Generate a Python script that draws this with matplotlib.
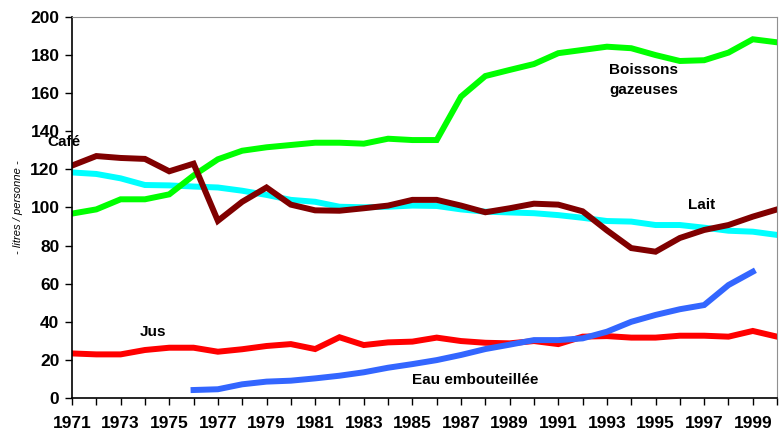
import matplotlib.pyplot as plt
import numpy as np

plt.rcParams['font.family'] = ['Liberation Sans', 'DejaVu Sans']

years = list(range(1971, 2001))

cafe = [122, 127, 126, 125.5, 119, 123, 93, 103, 110.5, 101.5, 98.5, 98.3, 99.6, 101,
        104, 104, 101, 97.5, 99.6, 102, 101.5, 98, 88, 78.7, 76.8, 84, 88.2, 90.8, 95.2, 99]
lait = [118.4, 117.6, 115.3, 111.8, 111.6, 111, 110.5, 108.8, 106.6, 104, 103, 100.4,
        100.1, 100.4, 101, 100.8, 99, 97.8, 97.4, 97, 96, 94.6, 92.9, 92.6, 90.8, 90.8,
        89.4, 87.8, 87.3, 85.6]
gazeuses = [96.8, 99, 104.3, 104.3, 106.9, 116.8, 125.3, 129.8, 131.6, 132.8, 134, 134,
            133.5, 136.1, 135.4, 135.4, 158.2, 169, 172.2, 175.3, 181, 182.7, 184.4,
            183.6, 180, 176.9, 177.3, 181.3, 188.3, 186.7]
jus = [23.4, 22.9, 22.9, 25.2, 26.4, 26.4, 24.3, 25.6, 27.3, 28.3, 25.7, 31.9, 27.8,
       29.2, 29.6, 31.7, 29.9, 29, 28.7, 29.9, 28.3, 32.2, 32.5, 31.7, 31.7, 32.7, 32.7,
       32.2, 35.2, 32.2]
eau_years = list(range(1976, 2000))
eau = [4.2, 4.6, 7.2, 8.6, 9.1, 10.3, 11.7, 13.5, 15.9, 17.8, 19.9, 22.6, 25.7, 28,
       30.4, 30.4, 31.3, 34.8, 40, 43.6, 46.6, 48.8, 59.3, 66.3]

fig = plt.figure(figsize=(7.8, 4.33), dpi=100)
ax = fig.add_axes([0.0923, 0.0808, 0.904, 0.88])

lw = 4.3
ax.plot(years, lait, color='#00FFFF', lw=lw, solid_joinstyle='miter')
ax.plot(years, gazeuses, color='#00FF00', lw=lw, solid_joinstyle='miter')
ax.plot(years, jus, color='#FF0000', lw=lw, solid_joinstyle='miter')
ax.plot(eau_years, eau, color='#3366FF', lw=lw, solid_joinstyle='miter')
ax.plot(years, cafe, color='#800000', lw=lw, solid_joinstyle='miter')

ax.set_xlim(1971, 2000)
ax.set_ylim(0, 200)
ax.set_yticks(range(0, 201, 20))
ax.set_xticks(years, minor=True)
ax.set_xticks(range(1971, 2000, 2))
ax.tick_params(axis='both', which='both', direction='out', width=1, length=5)
ax.tick_params(axis='x', pad=8)
ax.tick_params(axis='y', pad=4)
for lab in ax.get_xticklabels() + ax.get_yticklabels():
    lab.set_fontweight('bold')
    lab.set_fontsize(12.5)

for s in ['top', 'right']:
    ax.spines[s].set_color('#909090')
for s in ['left', 'bottom']:
    ax.spines[s].set_color('black')
    ax.spines[s].set_linewidth(1.2)

ax.set_ylabel('- litres / personne -', fontsize=8, fontstyle='italic', labelpad=5)

tk = dict(fontsize=11, fontweight='bold', transform=ax.transData)
ax.text(1970.0, 134.5, 'Café', va='center', ha='left', **tk)
ax.text(1993.1, 167, 'Boissons\ngazeuses', va='center', ha='left', linespacing=1.5, **tk)
ax.text(1996.35, 101.5, 'Lait', va='center', ha='left', **tk)
ax.text(1973.8, 34.5, 'Jus', va='center', ha='left', **tk)
ax.text(1985.0, 9.5, 'Eau embouteillée', va='center', ha='left', **tk)

fig.savefig('out.png', dpi=100)
